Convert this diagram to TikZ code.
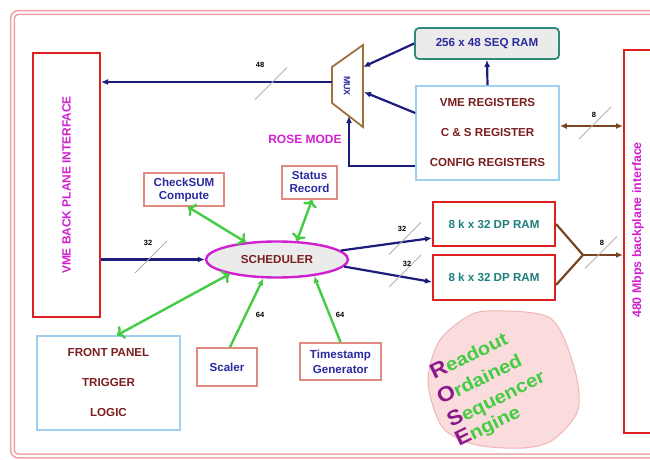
\documentclass[tikz,border=0pt]{standalone}
\usepackage{fontspec}
\setmainfont{Liberation Sans}
\newfontfamily\rosefont[FakeStretch=1.1]{Liberation Sans}
\usetikzlibrary{arrows.meta, shapes.geometric, calc}
\definecolor{boxred}{HTML}{DD2020}
\definecolor{salmon}{HTML}{E08A80}
\definecolor{lblue}{HTML}{9FD0F0}
\definecolor{seqteal}{HTML}{2E8B7A}
\definecolor{seqfill}{HTML}{EBEBEB}
\definecolor{mag}{HTML}{D020D0}
\definecolor{txtred}{HTML}{7A1F1F}
\definecolor{txtblue}{HTML}{2A2AA0}
\definecolor{txtteal}{HTML}{1F7F7F}
\definecolor{navy}{HTML}{1C1C7C}
\definecolor{grn}{HTML}{44CC44}
\definecolor{brn}{HTML}{7B4420}
\definecolor{muxbrn}{HTML}{A0703A}
\definecolor{purp}{HTML}{8A1A8A}
\definecolor{blobfill}{HTML}{FBDCDD}
\definecolor{blobline}{HTML}{F2B5B5}
\definecolor{frame}{HTML}{F0A0A0}

\begin{document}
\begin{tikzpicture}[x=1pt, y=-1pt,
        every node/.style={font=\bfseries\fontsize{11.6}{13}\selectfont, inner sep=0pt},
        rb/.style={draw=boxred, line width=2pt, fill=white},
        pb/.style={draw=salmon, line width=1.8pt, text=txtblue, align=center},
        lb/.style={draw=lblue, line width=1.6pt, text=txtred, align=center,
                   font=\bfseries\fontsize{11.6}{30}\selectfont},
        e/.style={-{Latex[length=7pt,width=6pt]}, navy, line width=2.2pt},
        g/.style={-{Latex[length=7pt,width=6pt]}, grn, line width=2.4pt},
        br/.style={-{Latex[length=7pt,width=6pt]}, brn, line width=2.2pt},
        sl/.style={gray!60, line width=0.8pt},
        lab/.style={text=black, font=\bfseries\fontsize{7.5}{8}\selectfont}]
        \useasboundingbox (0,0) rectangle (650,460);
        \draw[frame, line width=1.6pt, double=white, double distance=2.2pt, rounded corners=6pt]
              (12.5,12.5) rectangle (670,456);

        % interfaces
        \node[rb, minimum width=67, minimum height=264] (vme) at (66.5,185) {};
        \node[rotate=90, text=mag, font=\bfseries\fontsize{11.9}{13}\selectfont] (vmet) at (vme.center) {VME BACK PLANE INTERFACE};
        \node[rb, minimum width=28, minimum height=383] (r480) at (638,241.5) {};
        \node[rotate=90, text=mag, font=\bfseries\fontsize{12.4}{13}\selectfont] (r480t) at (638,230) {480 Mbps backplane interface};

        % registers, seq ram, mux
        \node[draw=seqteal, fill=seqfill, line width=1.8pt, rounded corners=4pt, minimum width=144, minimum height=31,
              text=txtblue] (seq) at (487,43.5) {256 x 48 SEQ RAM};
        \node[lb, minimum width=143, minimum height=94] (regs) at (487.5,133)
              {VME REGISTERS\\C \& S REGISTER\\CONFIG REGISTERS};
        \draw[muxbrn, line width=1.8pt, fill=white] (332,67) -- (363,45) -- (363,127) -- (332,103) -- cycle;
        \node[rotate=-90, text=txtblue, font=\bfseries\fontsize{9}{10}\selectfont] (mux) at (347,86) {MUX};
        \coordinate (muxin1) at (363,67);
        \coordinate (muxin2) at (364,92);
        \coordinate (muxsel) at (349,116);
        \coordinate (muxout) at (332,82);
        \node[text=mag, font=\bfseries\fontsize{12}{13}\selectfont] (mode) at (305,139) {ROSE MODE};

        \draw[e] (muxout) -- (vme.east |- muxout);
        \draw[e] (seq.west) -- (muxin1);
        \draw[e] ([yshift=20pt]regs.west) -- (muxin2);
        \draw[e] ([yshift=-33pt]regs.west) -| (muxsel);
        \draw[e] (regs.north) -- (seq.south);
        \draw[br, {Latex[length=7pt,width=6pt]}-{Latex[length=7pt,width=6pt]}]
              ([yshift=7pt]regs.east) -- (r480.west |- {$(regs.east)+(0,-7)$});

        % scheduler and friends
        \node[ellipse, draw=mag, fill=seqfill, line width=2.4pt, minimum width=142, minimum height=36,
              text=txtred] (sched) at (277,259.5) {SCHEDULER};
        \node[pb, minimum width=80, minimum height=33] (chk) at (184,189.5) {CheckSUM\\Compute};
        \node[pb, minimum width=55, minimum height=33] (stat) at (309.5,182.5) {Status\\Record};
        \node[lb, minimum width=143, minimum height=94] (front) at (108.5,383) {FRONT PANEL\\TRIGGER\\LOGIC};
        \node[pb, minimum width=60, minimum height=38] (scaler) at (227,367) {Scaler};
        \node[pb, minimum width=81, minimum height=37, font=\bfseries\fontsize{11.6}{15}\selectfont]
              (tstamp) at (340.5,361.5) {Timestamp\\Generator};

        \draw[e] (vme.east |- sched) -- (sched.west);
        \draw[g, <->] ([xshift=4pt]chk.south) -- (sched.151);
        \draw[g, <->] ([xshift=2.5pt]stat.south) -- (sched.43);
        \draw[g, <->] ([xshift=8.5pt]front.north) -- (sched.197);
        \draw[g] ([xshift=3pt]scaler.north) -- (sched.234);
        \draw[g] (tstamp.north) -- (sched.336);
        \node[lab] (l64a) at (260,315) {64};
        \node[lab] (l64b) at (340,315) {64};

        % dual port rams
        \node[rb, minimum width=122, minimum height=44, text=txtteal] (dp1) at (494,224) {8 k x 32 DP RAM};
        \node[rb, minimum width=122, minimum height=45, text=txtteal] (dp2) at (494,277.5) {8 k x 32 DP RAM};
        \coordinate (jn) at (583,255);
        \draw[e] (sched.8) -- ([yshift=-14pt]dp1.west);
        \draw[e] (sched.-6) -- ([yshift=-4.5pt]dp2.west);
        \draw[brn, line width=2.2pt] (dp1.east) -- (jn) -- ([yshift=-7.5pt]dp2.east);
        \draw[br] (jn) -- (r480.west |- jn);

        % bus widths
        \foreach \x/\y/\l/\lx/\ly [count=\i] in {271/83.5/48/260/65, 151/257/32/148/243, 405/238.5/32/402/229,
                 405/271/32/407/264, 601/252.5/8/602/243, 595/123/8/594/115}
        {
        \draw[sl] (\x-16,\y+16) -- (\x+16,\y-16);
        \node[lab] (bus\i) at (\lx,\ly) {\l};
        }

        % ROSE
        \draw[blobline, fill=blobfill, line width=1pt] plot[smooth cycle] coordinates
              {(487,311) (550,318) (574,367) (578,410) (553,440) (523,448) (477,445) (443,428) (428,383) (438,343) (462,320)};
        \foreach \c/\w/\x/\y [count=\i] in {R/eadout/434/380, O/rdained/441/405, S/equencer/451/428, E/ngine/459/447}
        \node[anchor=base west, rotate=26, text=grn, font=\rosefont\bfseries\fontsize{18.5}{20}\selectfont] (rose\i) at (\x,\y)
              {\textcolor{purp}{\fontsize{21}{21}\selectfont\c}\w};
      \end{tikzpicture}
\end{document}
